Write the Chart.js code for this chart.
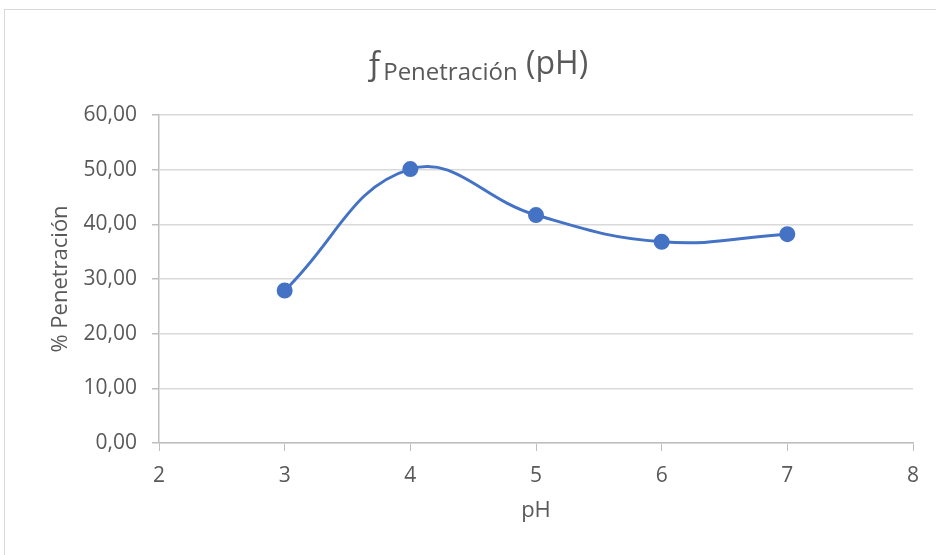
<!DOCTYPE html>
<html>
<head>
<meta charset="utf-8">
<script src="https://cdn.jsdelivr.net/npm/chart.js@4"></script>
<style>
  html, body { margin: 0; padding: 0; background: #fff; }
  #wrap { position: relative; width: 936px; height: 555px; overflow: hidden; }
  #frame {
    position: absolute; left: 4px; top: 9px; width: 960px; height: 580px;
    border: 1px solid #D9D9D9; box-sizing: border-box;
  }
  #chartTitle {
    position: absolute; left: 0; top: 46px; width: 953px; text-align: center;
    font-family: "Open Sans", sans-serif; font-size: 32px; color: #595959;
    white-space: nowrap; line-height: 1;
  }
  #chartTitle sub { font-size: 24px; vertical-align: -6px; }
  canvas { position: absolute; left: 0; top: 0; }
</style>
</head>
<body>
<div id="wrap">
  <div id="frame"></div>
  <canvas id="phChart" width="936" height="555"></canvas>
  <div id="chartTitle">ƒ<sub>Penetración</sub> (pH)</div>
</div>
<script>
const phValues = [3, 4, 5, 6, 7];
const penetration = [27.9, 50.1, 41.7, 36.8, 38.2];
const xRange = [2, 8];
const yRange = [0, 60];
const yStep = 10;
const xAxisTitle = "pH";
const yAxisTitle = "% Penetración";

const textColor = "#595959";
const seriesColor = "#4472C4";
const tickFont = { family: "'Open Sans', sans-serif", size: 21 };
const axisTitleFont = { family: "'Open Sans', sans-serif", size: 22 };

const points = phValues.map((x, i) => ({ x: x, y: penetration[i] }));

const ctx = document.getElementById("phChart").getContext("2d");

new Chart(ctx, {
  type: "scatter",
  data: {
    datasets: [
      {
        label: yAxisTitle,
        data: points,
        showLine: true,
        borderColor: seriesColor,
        backgroundColor: seriesColor,
        borderWidth: 3,
        tension: 0.42,
        pointRadius: 6.5,
        pointHoverRadius: 6.5,
      },
    ],
  },
  options: {
    responsive: false,
    animation: false,
    layout: { padding: { left: 0, right: 23, top: 115, bottom: 0 } },
    plugins: {
      legend: { display: false },
      tooltip: { enabled: false },
    },
    scales: {
      x: {
        type: "linear",
        min: xRange[0],
        max: xRange[1],
        ticks: { stepSize: 1, color: textColor, font: tickFont, padding: 12 },
        grid: {
          drawOnChartArea: false,
          drawTicks: true,
          tickLength: 8,
          tickColor: "#BFBFBF",
        },
        border: { color: "#BFBFBF", width: 1.5 },
        title: {
          display: true,
          text: xAxisTitle,
          color: textColor,
          font: axisTitleFont,
          padding: { top: 0, bottom: 31 },
        },
        afterFit: (scale) => { scale.height = 112; },
      },
      y: {
        min: yRange[0],
        max: yRange[1],
        ticks: {
          stepSize: yStep,
          color: textColor,
          font: tickFont,
          padding: 15,
          callback: (val) => val.toFixed(2).replace(".", ","),
        },
        grid: {
          color: "#D9D9D9",
          lineWidth: 1.5,
          tickLength: 7,
          tickColor: "#BFBFBF",
        },
        border: { color: "#BFBFBF", width: 1.5 },
        title: {
          display: true,
          text: yAxisTitle,
          color: textColor,
          font: axisTitleFont,
          padding: { top: 48, bottom: 0 },
        },
        afterFit: (scale) => { scale.width = 159; },
      },
    },
  },
});
</script>
</body>
</html>
